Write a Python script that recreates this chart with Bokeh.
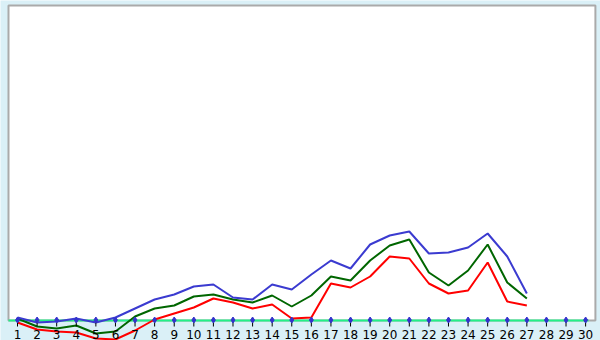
from bokeh.plotting import figure
from bokeh.models import BoxAnnotation, Range1d, ColumnDataSource
from bokeh.core.properties import value
from bokeh.embed import file_html
from bokeh.resources import INLINE

days = list(range(1, 31))
tick_labels = [str(d) for d in days]
line_days = list(range(1, 28))
blue_vals = [3, -2, -1, 2, -2, 3, 12, 21, 26, 34, 36, 23, 21, 36, 31, 46, 60, 52, 76, 85, 89, 67, 68, 73, 87, 64, 27]
green_vals = [2, -6, -8, -5, -13, -11, 4, 12, 15, 24, 26, 21, 18, 25, 14, 25, 44, 40, 60, 75, 81, 48, 35, 50, 76, 38, 22]
red_vals = [-2, -9, -11, -12, -18, -19, -10, 1, 7, 13, 22, 18, 12, 16, 2, 3, 37, 33, 44, 64, 62, 37, 27, 30, 58, 19, 15]

W, H = 600, 340
p = figure(width=W, height=H, output_backend="svg", toolbar_location=None,
           x_axis_type=None, y_axis_type=None, min_border=0,
           x_range=Range1d(0.132, 30.76), y_range=Range1d(-20, 320))
p.background_fill_color = "#daf0f7"
p.border_fill_color = "#daf0f7"
p.outline_line_color = None
p.grid.visible = False

box = BoxAnnotation(left=0.54, right=30.5, bottom=0, top=315,
                    fill_color="white", fill_alpha=1.0,
                    line_color="#aaaaaa", line_alpha=1.0, line_width=2,
                    level="underlay")
p.add_layout(box)

# zero line
p.line([0.54, 30.15], [0, 0], line_color="#22f088", line_width=2)

src = ColumnDataSource(dict(x=line_days, b=blue_vals, g=green_vals, r=red_vals))
p.line("x", "r", source=src, line_color="#ff0000", line_width=2)
p.line("x", "g", source=src, line_color="#006600", line_width=2)
p.line("x", "b", source=src, line_color="#3b3bd0", line_width=2)

# day markers
p.segment(x0=days, y0=[2] * len(days), x1=days, y1=[-6] * len(days),
          line_color="black", line_width=1)
p.scatter(days, [0.5] * len(days), marker="diamond", size=6,
          fill_color="#3333cc", line_color="#3333cc")

p.text(days, [-13.5] * len(days), text=tick_labels, text_align="center",
       text_baseline="middle", text_font=value("DejaVu Sans"),
       text_font_size="12px", text_color="black")

open("out.html", "w").write(file_html(p, INLINE))
